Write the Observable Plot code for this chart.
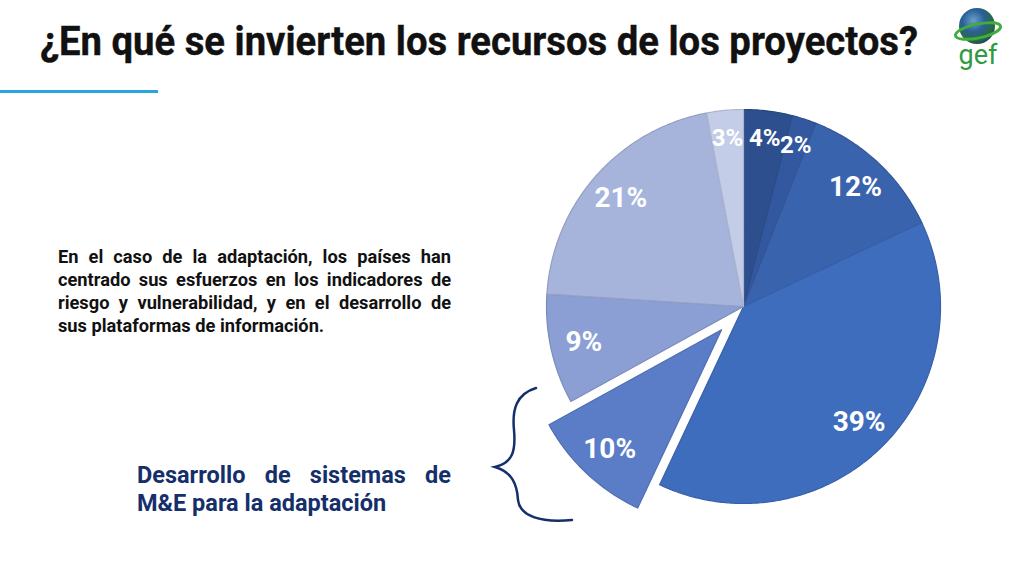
<!DOCTYPE html>
<html><head><meta charset="utf-8">
<script src="https://cdn.jsdelivr.net/npm/d3@7"></script>
<script src="https://cdn.jsdelivr.net/npm/@observablehq/plot@0.6"></script>
<style>
html,body{margin:0;padding:0}
body{width:1024px;height:576px;background:#fff;position:relative;overflow:hidden;font-family:Roboto,sans-serif}
#title{position:absolute;left:40px;top:18px;font-size:40px;font-weight:700;color:#111;white-space:nowrap;transform-origin:0 0;line-height:48px;-webkit-text-stroke:0.4px #111}
#rule{position:absolute;left:0;top:90px;width:158px;height:3px;background:#29a6e2}
#para{position:absolute;left:58px;top:245px;width:393px;font-size:19px;font-weight:700;color:#111;line-height:23px;transform-origin:0 0}
#para div,#me div.j{text-align:justify;text-align-last:justify;white-space:nowrap}
#me{position:absolute;left:137px;top:461px;width:314px;font-size:23.5px;font-weight:700;color:#152f6b;line-height:28px}
#chart{position:absolute;left:503px;top:66px}
#deco{position:absolute;left:0;top:0}
</style></head><body>
<div id="title">¿En qué se invierten los recursos de los proyectos?</div>
<div id="rule"></div>
<div id="para"></div>
<div id="me"></div>
<div id="chart"></div>
<svg id="deco" width="1024" height="576">
  <defs>
    <radialGradient id="globe" cx="0.4" cy="0.35" r="0.7">
      <stop offset="0" stop-color="#6aa0c8"/>
      <stop offset="0.45" stop-color="#2a5f97"/>
      <stop offset="0.8" stop-color="#2a6a3e"/>
      <stop offset="1" stop-color="#1d3f6a"/>
    </radialGradient>
  </defs>
  <path d="M536,388 C516,394 512,410 514,430 C516,452 512,463 495,467 C512,472 517,484 518,500 C520,516 540,523 572,520" fill="none" stroke="#152f6b" stroke-width="2.5" stroke-linecap="round"/>
  <circle cx="977" cy="26" r="18" fill="url(#globe)"/>
  <ellipse cx="978" cy="31" rx="23" ry="7" transform="rotate(-12 978 31)" fill="none" stroke="#3fae3a" stroke-width="3"/>
  <text x="978" y="64" text-anchor="middle" font-family="Roboto" font-size="27" fill="#2f9a3f">gef</text>
</svg>
<script>
// ---- data ----
const sliceLabels = ["4%", "2%", "12%", "39%", "10%", "9%", "21%", "3%"];
const sliceValues = [4, 2, 12, 39, 10, 9, 21, 3];
const sliceColors = ["#2d4f8e", "#33589f", "#3a63ae", "#3f6dbe", "#5b7dc7", "#8b9fd4", "#a6b4dc", "#c4cde8"];
const sliceHighlighted = [false, false, false, false, true, false, false, false];
const paragraphLines = [
  "En el caso de la adaptación, los países han",
  "centrado sus esfuerzos en los indicadores de",
  "riesgo y vulnerabilidad, y en el desarrollo de",
  "sus plataformas de información."
];
const highlightLines = ["Desarrollo de sistemas de", "M&E para la adaptación"];

// ---- text blocks ----
const para = document.getElementById("para");
let maxW = 0;
paragraphLines.forEach((t, i) => {
  const d = document.createElement("div");
  const sp = document.createElement("span");
  sp.textContent = t;
  d.appendChild(sp);
  if (i === paragraphLines.length - 1) { d.style.textAlign = "left"; d.style.textAlignLast = "left"; }
  para.appendChild(d);
  maxW = Math.max(maxW, sp.getBoundingClientRect().width);
});
const paraW = 393;
const sc = Math.min(1, paraW * 0.96 / maxW);
if (sc < 1) { para.style.width = (paraW / sc) + "px"; para.style.transform = `scaleX(${sc})`; }
const me = document.getElementById("me");
highlightLines.forEach((t, i) => {
  const d = document.createElement("div");
  d.textContent = t;
  if (i === 0) d.className = "j";
  me.appendChild(d);
});
const title = document.getElementById("title");
const tw = title.getBoundingClientRect().width;
title.style.transform = `scaleX(${878 / tw})`;

// ---- pie geometry from values ----
const R = 197, half = 240, explodePx = 32;
const total = d3.sum(sliceValues);
let acc = 0;
const slices = sliceValues.map((v, i) => {
  const a0 = acc / total * 2 * Math.PI; acc += v;
  const a1 = acc / total * 2 * Math.PI;
  return {i, v, a0, a1, mid: (a0 + a1) / 2, label: sliceLabels[i], color: sliceColors[i],
          off: sliceHighlighted[i] ? explodePx / R : 0};
});
const pts = [];
for (const s of slices) {
  const ox = Math.sin(s.mid) * s.off, oy = Math.cos(s.mid) * s.off;
  pts.push({k: s.i, x: ox, y: oy});
  const n = Math.max(4, Math.ceil((s.a1 - s.a0) / 0.01));
  for (let j = 0; j <= n; j++) {
    const a = s.a0 + (s.a1 - s.a0) * j / n;
    pts.push({k: s.i, x: ox + Math.sin(a), y: oy + Math.cos(a)});
  }
  pts.push({k: s.i, x: ox, y: oy});
}
const dom = [-half / R, half / R];
const labelR = s => s.v < 5 ? 0.86 : 0.83;
const chart = Plot.plot({
  width: 2 * half, height: 2 * half, margin: 0,
  x: {domain: dom, axis: null},
  y: {domain: dom, axis: null},
  color: {type: "identity"},
  marks: [
    Plot.line(pts, {x: "x", y: "y", z: "k", curve: "linear",
      fill: d => sliceColors[d.k],
      stroke: d => d3.color(sliceColors[d.k]).darker(0.35).formatHex(),
      strokeWidth: 1.2, strokeLinejoin: "round"}),
    Plot.text(slices, {
      x: s => Math.sin(s.mid) * (labelR(s) + s.off),
      y: s => Math.cos(s.mid) * (labelR(s) + s.off),
      text: "label", fill: "white", fontFamily: "Roboto", fontWeight: 700,
      fontSize: s => s.v < 5 ? 24 : 28
    })
  ]
});
document.getElementById("chart").appendChild(chart);
</script>
</body></html>
